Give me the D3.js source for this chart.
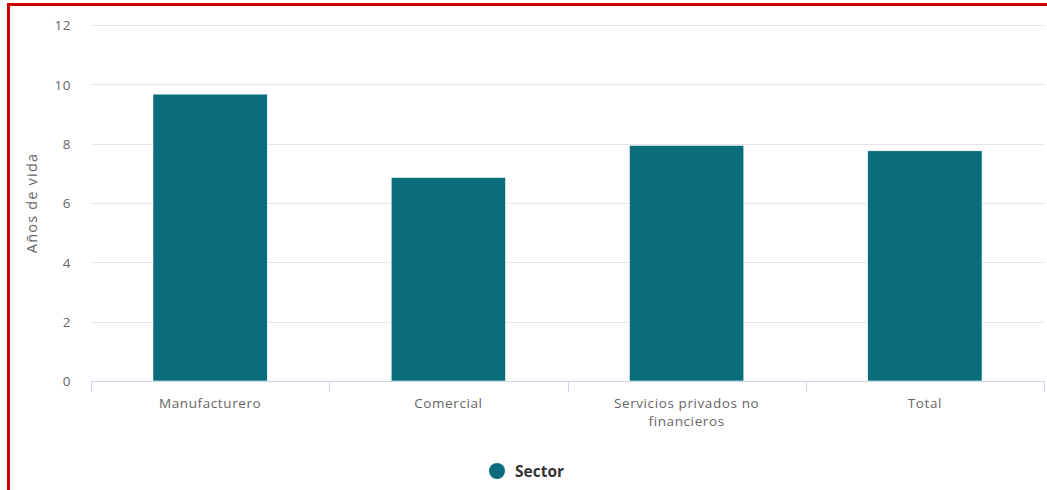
<!DOCTYPE html>
<html><head><meta charset="utf-8">
<script src="https://cdn.jsdelivr.net/npm/d3@7"></script>
<style>
html,body{margin:0;padding:0;background:#fff;}
svg{display:block;font-family:"Open Sans","DejaVu Sans",sans-serif;}
</style></head>
<body>
<svg id="chart" width="1047" height="490"></svg>
<script>
const categories = ["Manufacturero", "Comercial", "Servicios privados no financieros", "Total"];
const values = [9.67, 6.86, 7.94, 7.76];
const yTicks = [0, 2, 4, 6, 8, 10, 12];
const seriesName = "Sector";
const yTitle = "Años de vida";

const svg = d3.select("#chart");
const W = 1047, H = 490;
const m = {left: 91, right: 3, top: 25, bottom: 109};
const x = d3.scaleBand().domain(categories).range([m.left, W - m.right]).paddingInner(0.52).paddingOuter(0.26);
const y = d3.scaleLinear().domain([0, 12]).range([H - m.bottom, m.top]);
const color = "#0a6d7c";

// red frame
svg.append("line").attr("x1", 8.5).attr("x2", 8.5).attr("y1", 3).attr("y2", H).attr("stroke", "#cc0000").attr("stroke-width", 3);
svg.append("line").attr("x1", 7).attr("x2", W).attr("y1", 4.5).attr("y2", 4.5).attr("stroke", "#cc0000").attr("stroke-width", 3);

// grid
svg.append("g").selectAll("line").data(yTicks.filter(d => d > 0)).join("line")
  .attr("x1", m.left).attr("x2", W - m.right)
  .attr("y1", d => Math.round(y(d)) + 0.5).attr("y2", d => Math.round(y(d)) + 0.5)
  .attr("stroke", "#e6e6e6").attr("stroke-width", 1);

// y axis labels
const yAxis = d3.axisLeft(y).tickValues(yTicks).tickSize(0).tickPadding(0);
const gy = svg.append("g").attr("transform", `translate(71,0)`).call(yAxis);
gy.select(".domain").remove();
gy.selectAll("text").attr("font-size", 13.5).attr("fill", "#666").attr("font-family", "'Open Sans', sans-serif").attr("dy", "0.36em").attr("letter-spacing", "0.5");

// y title
svg.append("text").attr("transform", `translate(37,${(y(0) + y(12)) / 2}) rotate(-90)`)
  .attr("text-anchor", "middle").attr("font-size", 14.5).attr("fill", "#666").attr("letter-spacing", "1.2")
  .text(yTitle);

// bars
svg.append("g").selectAll("rect").data(values).join("rect")
  .attr("x", (d, i) => x(categories[i]))
  .attr("width", x.bandwidth())
  .attr("y", d => y(d))
  .attr("height", d => y(0) - y(d))
  .attr("fill", color).attr("stroke", "#ffffff").attr("stroke-width", 0.6);

// x axis
const x0 = y(0);
svg.append("line").attr("x1", m.left).attr("x2", W - m.right).attr("y1", Math.round(x0) + 0.5).attr("y2", Math.round(x0) + 0.5)
  .attr("stroke", "#ccd6eb");
const tickPos = d3.range(categories.length + 1).map(i => m.left + i * (W - m.right - m.left) / categories.length);
svg.append("g").selectAll("line").data(tickPos).join("line")
  .attr("x1", d => Math.round(d) + 0.5).attr("x2", d => Math.round(d) + 0.5)
  .attr("y1", Math.round(x0)).attr("y2", Math.round(x0) + 11)
  .attr("stroke", "#ccd6eb");

// category labels (wrapped)
const labelWrap = {"Servicios privados no financieros": ["Servicios privados no", "financieros"]};
const gl = svg.append("g");
categories.forEach(c => {
  const lines = labelWrap[c] || [c];
  const t = gl.append("text").attr("x", x(c) + x.bandwidth() / 2).attr("y", 408)
    .attr("text-anchor", "middle").attr("font-size", 13.5).attr("fill", "#666").attr("letter-spacing", "0.6");
  lines.forEach((l, i) => t.append("tspan").attr("x", x(c) + x.bandwidth() / 2).attr("dy", i === 0 ? 0 : 18).text(l));
});

// legend
const lg = svg.append("g");
lg.append("circle").attr("cx", 497).attr("cy", 471).attr("r", 8).attr("fill", color);
lg.append("text").attr("x", 515).attr("y", 477).attr("font-size", 15.5).attr("font-weight", "bold").attr("fill", "#333").text(seriesName);
</script>
</body></html>
